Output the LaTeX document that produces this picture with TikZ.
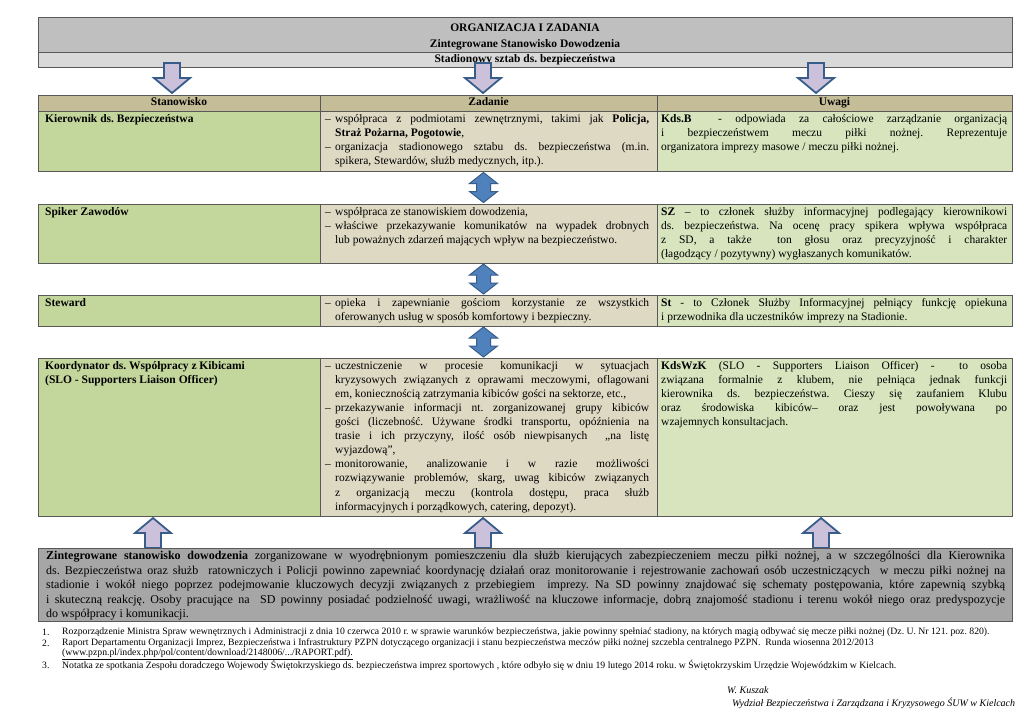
\documentclass[tikz,border=0pt]{standalone}
\usepackage{fontspec}
\setmainfont{Liberation Serif}
\usetikzlibrary{calc}
\definecolor{titlegray}{HTML}{BFBFBF}
\definecolor{subgray}{HTML}{D9D9D9}
\definecolor{headtan}{HTML}{C4BD97}
\definecolor{cgreen}{HTML}{C3D69B}
\definecolor{cbeige}{HTML}{DDD9C3}
\definecolor{clgreen}{HTML}{D7E4BD}
\definecolor{botgray}{HTML}{A6A6A6}
\definecolor{lav}{HTML}{CCC1DA}
\definecolor{arrowblue}{HTML}{4F81BD}
\definecolor{arrowedge}{HTML}{385D8A}
\definecolor{boxedge}{HTML}{595959}
\tolerance=9999
\emergencystretch=10pt
\frenchspacing
\newcommand\itm[1]{\noindent\hangindent=10pt\hangafter=1\makebox[10pt][l]{–}#1\par}
\tikzset{
  box/.style={draw=boxedge, line width=0.9pt, anchor=north west, inner sep=0pt, outer sep=0pt},
  hd/.style={inner sep=0pt, font=\fontsize{11.5}{16}\selectfont\bfseries, align=center},
  hdl/.style={hd, text height=8pt, text depth=2.5pt},
  txt/.style={anchor=north west, inner sep=0pt, align=justify,
     font=\fontsize{11.5}{14.1}\selectfont\frenchspacing},
  lavarrow/.style={fill=lav, draw=arrowedge, line width=1.8pt, line join=miter},
  bluearrow/.style={fill=arrowblue, draw=arrowedge, line width=1pt, line join=miter},
  fn/.style={anchor=west, inner sep=0pt, font=\fontsize{9.7}{11}\selectfont\frenchspacing},
  sig/.style={anchor=west, inner sep=0pt, font=\fontsize{10}{11}\selectfont\itshape},
}
\begin{document}
\begin{tikzpicture}[x=1pt,y=-1pt]
\useasboundingbox (0,0) rectangle (1024,725);
\fill[white] (0,0) rectangle (1024,725);

% header
\node[box, fill=titlegray, minimum width=974, minimum height=35] (title) at (38,17) {};
\node[hd] (titletxt) at ([yshift=-2pt]title.center) {ORGANIZACJA I ZADANIA\\Zintegrowane Stanowisko Dowodzenia};
\node[box, fill=subgray, minimum width=974, minimum height=15] (sub) at (38,52) {};
\node[hdl] (subtxt) at (sub.center) {Stadionowy sztab ds. bezpieczeństwa};

% table header
\node[box, fill=headtan, minimum width=282, minimum height=16] (h1) at (38,95) {};
\node[box, fill=headtan, minimum width=337, minimum height=16] (h2) at (320,95) {};
\node[box, fill=headtan, minimum width=355, minimum height=16] (h3) at (657,95) {};
\node[hdl] (h1t) at (h1.center) {Stanowisko};
\node[hdl] (h2t) at (h2.center) {Zadanie};
\node[hdl] (h3t) at (h3.center) {Uwagi};

% rows
\node[box, fill=cgreen, minimum width=282, minimum height=60] (r1a) at (38,111) {};
\node[box, fill=cbeige, minimum width=337, minimum height=60] (r1b) at (320,111) {};
\node[box, fill=clgreen, minimum width=355, minimum height=60] (r1c) at (657,111) {};

\node[box, fill=cgreen, minimum width=282, minimum height=59] (r2a) at (38,204) {};
\node[box, fill=cbeige, minimum width=337, minimum height=59] (r2b) at (320,204) {};
\node[box, fill=clgreen, minimum width=355, minimum height=59] (r2c) at (657,204) {};

\node[box, fill=cgreen, minimum width=282, minimum height=31] (r3a) at (38,295) {};
\node[box, fill=cbeige, minimum width=337, minimum height=31] (r3b) at (320,295) {};
\node[box, fill=clgreen, minimum width=355, minimum height=31] (r3c) at (657,295) {};

\node[box, fill=cgreen, minimum width=282, minimum height=158] (r4a) at (38,358) {};
\node[box, fill=cbeige, minimum width=337, minimum height=158] (r4b) at (320,358) {};
\node[box, fill=clgreen, minimum width=355, minimum height=158] (r4c) at (657,358) {};

% row texts
\node[txt, text width=270] (t1a) at ([xshift=7pt,yshift=-3pt]r1a.north west) {\textbf{Kierownik ds. Bezpieczeństwa}};
\node[txt, text width=324] (t1b) at ([xshift=5pt,yshift=-3pt]r1b.north west) {%
\itm{współpraca z podmiotami zewnętrznymi, takimi jak \textbf{Policja,}\linebreak \textbf{Straż Pożarna, Pogotowie},}%
\itm{organizacja stadionowego sztabu ds. bezpieczeństwa (m.in.\linebreak spikera, Stewardów, służb medycznych, itp.).}};
\node[txt, text width=346] (t1c) at ([xshift=4pt,yshift=-3pt]r1c.north west) {%
\textbf{Kds.B}\ \ - odpowiada za całościowe zarządzanie organizacją\linebreak i bezpieczeństwem meczu piłki nożnej. Reprezentuje\linebreak organizatora imprezy masowe / meczu piłki nożnej.};

\node[txt, text width=270] (t2a) at ([xshift=7pt,yshift=-3pt]r2a.north west) {\textbf{Spiker Zawodów}};
\node[txt, text width=324] (t2b) at ([xshift=5pt,yshift=-3pt]r2b.north west) {%
\itm{współpraca ze stanowiskiem dowodzenia,}%
\itm{właściwe przekazywanie komunikatów\ na wypadek drobnych\linebreak lub poważnych zdarzeń mających wpływ na bezpieczeństwo.}};
\node[txt, text width=346] (t2c) at ([xshift=4pt,yshift=-3pt]r2c.north west) {%
\textbf{SZ} – to członek służby informacyjnej podlegający kierownikowi\linebreak ds. bezpieczeństwa. Na ocenę pracy spikera wpływa współpraca\linebreak z SD, a także\ \ ton głosu\ oraz precyzyjność i charakter\linebreak (łagodzący / pozytywny) wygłaszanych komunikatów.};

\node[txt, text width=270] (t3a) at ([xshift=7pt,yshift=-3pt]r3a.north west) {\textbf{Steward}};
\node[txt, text width=324] (t3b) at ([xshift=5pt,yshift=-3pt]r3b.north west) {%
\itm{opieka i zapewnianie gościom korzystanie ze wszystkich\linebreak oferowanych usług w sposób komfortowy i bezpieczny.}};
\node[txt, text width=346] (t3c) at ([xshift=4pt,yshift=-3pt]r3c.north west) {%
\textbf{St} - to Członek Służby Informacyjnej pełniący funkcję opiekuna\linebreak i przewodnika dla uczestników imprezy na Stadionie.};

\node[txt, text width=270] (t4a) at ([xshift=7pt,yshift=-3pt]r4a.north west) {\textbf{Koordynator ds. Współpracy z Kibicami}\par\textbf{(SLO - Supporters Liaison Officer)}};
\node[txt, text width=324] (t4b) at ([xshift=5pt,yshift=-3pt]r4b.north west) {%
\itm{uczestniczenie w procesie komunikacji w sytuacjach\linebreak kryzysowych związanych z oprawami meczowymi, oflagowani\linebreak em, koniecznością zatrzymania kibiców\ gości na sektorze, etc.,}%
\itm{przekazywanie informacji nt. zorganizowanej grupy kibiców\linebreak gości (liczebność. Używane środki transportu, opóźnienia na\linebreak trasie i ich przyczyny, ilość osób niewpisanych\ \ „na listę\linebreak wyjazdową”,}%
\itm{monitorowanie, analizowanie i w razie możliwości\linebreak rozwiązywanie problemów, skarg, uwag kibiców związanych\linebreak z organizacją meczu (kontrola dostępu, praca służb\linebreak informacyjnych i porządkowych, catering, depozyt).}};
\node[txt, text width=346] (t4c) at ([xshift=4pt,yshift=-3pt]r4c.north west) {%
\textbf{KdsWzK} (SLO - Supporters Liaison Officer) -\ \ to osoba\linebreak związana formalnie z klubem, nie pełniąca jednak funkcji\linebreak kierownika ds. bezpieczeństwa. Cieszy się zaufaniem Klubu\linebreak oraz środowiska kibiców– oraz jest powoływana po\linebreak wzajemnych konsultacjach.};

% top arrows (down)
\coordinate (ta1) at (172,63);
\coordinate (ta2) at (483,63);
\coordinate (ta3) at (816,63);
\foreach \c in {ta1,ta2,ta3}
  \draw[lavarrow] (\c) ++(-8,0) -- ++(16,0) -- ++(0,15) -- ++(10,0) -- ++(-18,15) -- ++(-18,-15) -- ++(10,0) -- cycle;

% double arrows between rows
\coordinate (d1) at ($(r1b.south)!0.5!(r2b.north)+(-5,0)$);
\coordinate (d2) at ($(r2b.south)!0.5!(r3b.north)+(-5,0)$);
\coordinate (d3) at ($(r3b.south)!0.5!(r4b.north)+(-5,0)$);
\foreach \c in {d1,d2,d3}
  \draw[bluearrow] (\c) ++(0,-15) -- ++(14,11) -- ++(-7,0) -- ++(0,8) -- ++(7,0) -- ++(-14,11) -- ++(-14,-11) -- ++(7,0) -- ++(0,-8) -- ++(-7,0) -- cycle;

% bottom arrows (up)
\coordinate (ba1) at (153,548);
\coordinate (ba2) at (483,548);
\coordinate (ba3) at (821,548);
\foreach \c in {ba1,ba2,ba3}
  \draw[lavarrow] (\c) ++(-8,0) -- ++(0,-15) -- ++(-10,0) -- ++(18,-15) -- ++(18,15) -- ++(-10,0) -- ++(0,15) -- cycle;

% bottom box
\node[box, fill=botgray, minimum width=974, minimum height=73] (bot) at (38,548) {};
\node[txt, text width=959, font=\fontsize{12}{14.5}\selectfont\frenchspacing] (bottxt) at ([xshift=8pt,yshift=-3pt]bot.north west) {%
\textbf{Zintegrowane stanowisko dowodzenia} zorganizowane w wyodrębnionym pomieszczeniu dla służb kierujących zabezpieczeniem meczu piłki nożnej, a w szczególności dla Kierownika\linebreak ds. Bezpieczeństwa oraz służb\ \ ratowniczych i Policji powinno zapewniać koordynację działań oraz monitorowanie i rejestrowanie zachowań osób uczestniczących\ \ w meczu piłki nożnej na\linebreak stadionie i wokół niego poprzez podejmowanie kluczowych decyzji związanych z przebiegiem\ \ imprezy. Na SD powinny znajdować się schematy postępowania, które zapewnią szybką\linebreak i skuteczną reakcję. Osoby pracujące na\ \ SD powinny posiadać podzielność uwagi, wrażliwość na kluczowe informacje, dobrą znajomość stadionu i terenu wokół niego oraz predyspozycje\linebreak do współpracy i komunikacji.};

% footnotes
\node[fn] (f1n) at (42,632) {1.};
\node[fn] (f1) at (62,632) {Rozporządzenie Ministra Spraw wewnętrznych i Administracji z dnia 10 czerwca 2010 r. w sprawie warunków bezpieczeństwa, jakie powinny spełniać stadiony, na których magią odbywać się mecze piłki nożnej (Dz. U. Nr 121. poz. 820).};
\node[fn] (f2n) at (42,643.5) {2.};
\node[fn] (f2) at (62,643.5) {Raport Departamentu Organizacji Imprez, Bezpieczeństwa i Infrastruktury PZPN dotyczącego organizacji i stanu bezpieczeństwa meczów piłki nożnej szczebla centralnego PZPN.\ \ Runda wiosenna 2012/2013};
\node[fn] (f2b) at (62,654.5) {\underline{(www.pzpn.pl/index.php/pol/content/download/2148006/.../RAPORT.pdf).}};
\node[fn] (f3n) at (42,665) {3.};
\node[fn] (f3) at (62,665) {Notatka ze spotkania Zespołu doradczego Wojewody Świętokrzyskiego ds. bezpieczeństwa imprez sportowych , które odbyło się w dniu 19 lutego 2014 roku. w Świętokrzyskim Urzędzie Wojewódzkim w Kielcach.};

% signature
\node[sig] (s1) at (727,690) {W. Kuszak};
\node[sig] (s2) at (732,703) {Wydział Bezpieczeństwa i Zarządzana i Kryzysowego ŚUW w Kielcach};
\end{tikzpicture}
\end{document}
